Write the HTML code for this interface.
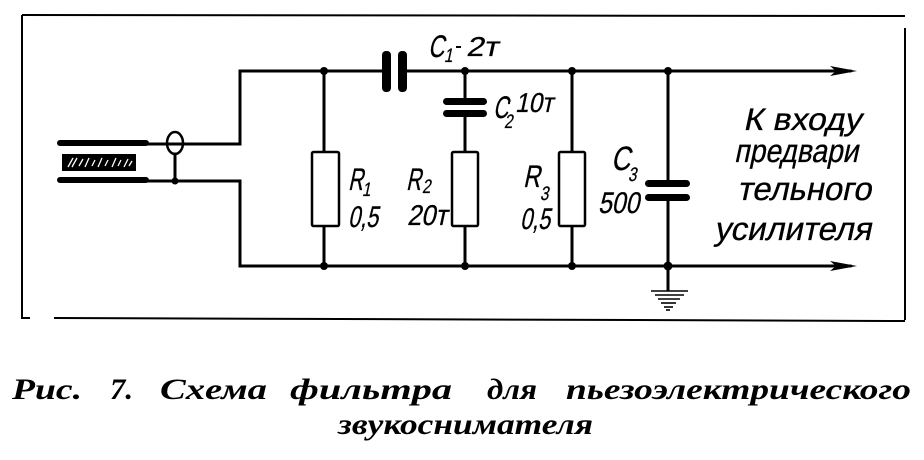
<!DOCTYPE html>
<html>
<head>
<meta charset="utf-8">
<style>
  html,body{margin:0;padding:0;background:#fff;}
  body{width:924px;height:460px;overflow:hidden;}
  svg{display:block;}
  .lbl{font-family:"Liberation Sans","DejaVu Sans",sans-serif;font-style:normal;fill:#000;stroke:#000;stroke-width:0.25;}
  .cap{font-family:"Liberation Serif","DejaVu Serif",serif;font-style:italic;font-weight:bold;fill:#000;font-size:30px;}
</style>
</head>
<body>
<svg width="924" height="460" viewBox="0 0 924 460" xmlns="http://www.w3.org/2000/svg">
  <rect x="0" y="0" width="924" height="460" fill="#fff"/>

  <!-- frame -->
  <g stroke="#000" stroke-width="2" fill="none">
    <path d="M22,15 L905,16"/>
    <path d="M905,28 L905,320"/>
    <path d="M905,321 L54,318"/>
    <path d="M22,15 L22,318 L30,318"/>
  </g>

  <!-- wires -->
  <g stroke="#000" stroke-width="3" fill="none" stroke-linecap="square" stroke-linejoin="miter">
    <path d="M145,144 H240 V71 H382"/>
    <path d="M408,71 H850"/>
    <path d="M145,181 H240 V266 H850"/>
    <path d="M324,71 V152"/>
    <path d="M324,226 V266"/>
    <path d="M465,71 V98"/>
    <path d="M465,117 V152"/>
    <path d="M465,226 V266"/>
    <path d="M572,71 V152"/>
    <path d="M572,226 V266"/>
    <path d="M668,71 V180"/>
    <path d="M668,201 V290"/>
    <path d="M175,154 V181"/>
  </g>

  <!-- thick cable leads -->
  <g stroke="#000" stroke-width="6" stroke-linecap="round">
    <path d="M60,143 H146"/>
    <path d="M60,180 H146"/>
  </g>
  <!-- hatched block -->
  <rect x="62" y="154" width="74" height="17" fill="#000"/>
  <g stroke="#fff" stroke-width="1.3" fill="none">
    <path d="M68,167 L73,158 M72,167 L77,158 M79,166 L83,159 M85,167 L89,158 M92,166 L95,160 M98,167 L102,158 M105,166 L108,160 M112,167 L116,158 M118,166 L121,160 M124,167 L128,159 M129,166 L132,161"/>
  </g>
  <!-- oval -->
  <ellipse cx="175" cy="143" rx="8" ry="11" fill="none" stroke="#000" stroke-width="2.5"/>

  <!-- resistors -->
  <g stroke="#000" stroke-width="2.5" fill="#fff">
    <rect x="312" y="152" width="27" height="74" rx="1.5"/>
    <rect x="452" y="152" width="26" height="74" rx="1.5"/>
    <rect x="559" y="152" width="26" height="74" rx="1.5"/>
  </g>

  <!-- capacitors -->
  <g fill="#000">
    <rect x="382" y="51" width="9" height="41" rx="4"/>
    <rect x="398" y="51" width="9" height="41" rx="4"/>
    <rect x="443" y="98" width="44" height="7" rx="3.5"/>
    <rect x="443" y="110" width="44" height="7" rx="3.5"/>
    <rect x="645" y="180" width="45" height="7" rx="3.5"/>
    <rect x="645" y="194" width="45" height="7" rx="3.5"/>
  </g>

  <!-- junction dots -->
  <g fill="#000">
    <circle cx="324" cy="71" r="4"/>
    <circle cx="324" cy="266" r="4"/>
    <circle cx="465" cy="71" r="4"/>
    <circle cx="465" cy="266" r="4"/>
    <circle cx="572" cy="71" r="4"/>
    <circle cx="572" cy="266" r="4"/>
    <circle cx="668" cy="71" r="4"/>
    <circle cx="668" cy="266" r="4.5"/>
    <circle cx="175" cy="181" r="3.5"/>
  </g>

  <!-- arrowheads -->
  <g fill="#000">
    <polygon points="830,66 857,71 830,76 836,71"/>
    <polygon points="830,261 857,266 830,271 836,266"/>
  </g>

  <!-- ground -->
  <g stroke="#000" stroke-width="1.6">
    <path d="M651,291 H688"/>
    <path d="M655,295 H684"/>
    <path d="M658,299 H680"/>
    <path d="M661,303 H676"/>
    <path d="M664,307 H673"/>
    <path d="M666,310 H670"/>
  </g>

  <!-- component labels -->
  <text class="lbl" font-size="24" textLength="16" lengthAdjust="spacingAndGlyphs" transform="translate(428,57) skewX(-12) scale(1,1.3)">C</text>
  <text class="lbl" font-size="15" transform="translate(444,62) skewX(-12) scale(1,1.3)">1</text>
  <path d="M456,47 H461" stroke="#000" stroke-width="2"/>
  <text class="lbl" font-size="21" textLength="32" lengthAdjust="spacingAndGlyphs" transform="translate(466,56) skewX(-12) scale(1,1.3)">2т</text>

  <text class="lbl" font-size="24" textLength="15" lengthAdjust="spacingAndGlyphs" transform="translate(493,118) skewX(-12) scale(1,1.3)">C</text>
  <text class="lbl" font-size="15" transform="translate(504,128) skewX(-12) scale(1,1.3)">2</text>
  <circle cx="509" cy="103" r="1.2" fill="#000"/>
  <text class="lbl" font-size="21" textLength="38" lengthAdjust="spacingAndGlyphs" transform="translate(515,112) skewX(-12) scale(1,1.3)">10т</text>

  <text class="lbl" font-size="24" textLength="15" lengthAdjust="spacingAndGlyphs" transform="translate(348,190) skewX(-12) scale(1,1.3)">R</text>
  <text class="lbl" font-size="15" transform="translate(362,196) skewX(-12) scale(1,1.3)">1</text>
  <text class="lbl" font-size="23" textLength="30" lengthAdjust="spacingAndGlyphs" transform="translate(348,227) skewX(-12) scale(1,1.3)">0,5</text>

  <text class="lbl" font-size="24" textLength="15" lengthAdjust="spacingAndGlyphs" transform="translate(406,190) skewX(-12) scale(1,1.3)">R</text>
  <text class="lbl" font-size="15" transform="translate(422,193) skewX(-12) scale(1,1.3)">2</text>
  <text class="lbl" font-size="22" textLength="40" lengthAdjust="spacingAndGlyphs" transform="translate(407,225) skewX(-12) scale(1,1.3)">20т</text>

  <text class="lbl" font-size="24" textLength="17" lengthAdjust="spacingAndGlyphs" transform="translate(523,187) skewX(-12) scale(1,1.3)">R</text>
  <text class="lbl" font-size="15" transform="translate(540,200) skewX(-12) scale(1,1.3)">3</text>
  <text class="lbl" font-size="23" textLength="30" lengthAdjust="spacingAndGlyphs" transform="translate(520,229) skewX(-12) scale(1,1.3)">0,5</text>

  <text class="lbl" font-size="26" textLength="19" lengthAdjust="spacingAndGlyphs" transform="translate(611,170) skewX(-12) scale(1,1.3)">C</text>
  <text class="lbl" font-size="15" transform="translate(628,181) skewX(-12) scale(1,1.3)">3</text>
  <text class="lbl" font-size="23" textLength="41" lengthAdjust="spacingAndGlyphs" transform="translate(598,213) skewX(-12) scale(1,1.3)">500</text>

  <!-- right-side text -->
  <text class="lbl" font-size="24" textLength="118" lengthAdjust="spacingAndGlyphs" transform="translate(743,130) skewX(-12) scale(1,1.3)">К входу</text>
  <text class="lbl" font-size="25" textLength="124" lengthAdjust="spacingAndGlyphs" transform="translate(734,162) skewX(-12) scale(1,1.3)">предвари</text>
  <text class="lbl" font-size="25" textLength="134" lengthAdjust="spacingAndGlyphs" transform="translate(737,200) skewX(-12) scale(1,1.3)">тельного</text>
  <text class="lbl" font-size="25" textLength="157" lengthAdjust="spacingAndGlyphs" transform="translate(714,240) skewX(-12) scale(1,1.3)">усилителя</text>

  <!-- caption -->
  <text class="cap" x="12" y="399" textLength="70" lengthAdjust="spacingAndGlyphs">Рис.</text>
  <text class="cap" x="110" y="399" textLength="23" lengthAdjust="spacingAndGlyphs">7.</text>
  <text class="cap" x="160" y="399" textLength="107" lengthAdjust="spacingAndGlyphs">Схема</text>
  <text class="cap" x="290" y="399" textLength="162" lengthAdjust="spacingAndGlyphs">фильтра</text>
  <text class="cap" x="487" y="399" textLength="50" lengthAdjust="spacingAndGlyphs">для</text>
  <text class="cap" x="566" y="399" textLength="345" lengthAdjust="spacingAndGlyphs">пьезоэлектрического</text>
  <text class="cap" x="338" y="434" textLength="255" lengthAdjust="spacingAndGlyphs">звукоснимателя</text>
</svg>
</body>
</html>
